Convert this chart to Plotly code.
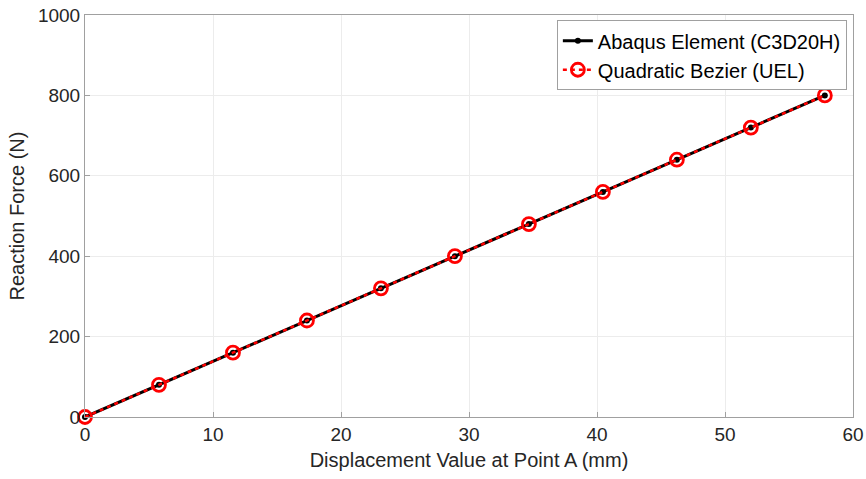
import plotly.graph_objects as go

disp = [0, 5.78, 11.56, 17.34, 23.12, 28.9, 34.68, 40.46, 46.24, 52.02, 57.8]
force_abaqus = [0, 80, 160, 240, 320, 400, 480, 560, 640, 720, 800]
force_uel = [0, 80, 160, 240, 320, 400, 480, 560, 640, 720, 800]

fig = go.Figure()
fig.add_trace(go.Scatter(
    x=disp, y=force_abaqus, mode="lines+markers", name="Abaqus Element (C3D20H)",
    line=dict(color="black", width=3), marker=dict(color="black", size=6),
    cliponaxis=False))
fig.add_trace(go.Scatter(
    x=disp, y=force_uel, mode="lines+markers", name="Quadratic Bezier (UEL)",
    line=dict(color="red", width=2.5, dash="4px,4px"),
    marker=dict(symbol="circle-open", color="red", size=13, line=dict(width=2.8)),
    cliponaxis=False))

axis_common = dict(
    showline=True, linecolor="#a0a0a0", linewidth=1, mirror=True,
    ticks="inside", ticklen=5, tickcolor="#a0a0a0",
    showgrid=True, gridcolor="#ececec", gridwidth=1, zeroline=False,
    tickfont=dict(size=19, color="#262626"), automargin=False,
)
fig.update_layout(
    width=866, height=479,
    margin=dict(l=85, r=13, t=15, b=62),
    paper_bgcolor="white", plot_bgcolor="white",
    font=dict(family="Liberation Sans, Arial, sans-serif", color="#262626"),
    xaxis=dict(range=[0, 60], dtick=10,
               title=dict(text="Displacement Value at Point A (mm)", font=dict(size=20), standoff=9),
               **axis_common),
    yaxis=dict(range=[0, 1000], dtick=200,
               title=dict(text="Reaction Force (N)", font=dict(size=20), standoff=7),
               **axis_common),
    legend=dict(x=0.992, y=0.987, xanchor="right", yanchor="top",
                bgcolor="white", bordercolor="#a0a0a0", borderwidth=1,
                font=dict(size=20, color="black"), tracegroupgap=0,
                itemwidth=30),
    showlegend=True,
)
fig.write_html("out.html")
